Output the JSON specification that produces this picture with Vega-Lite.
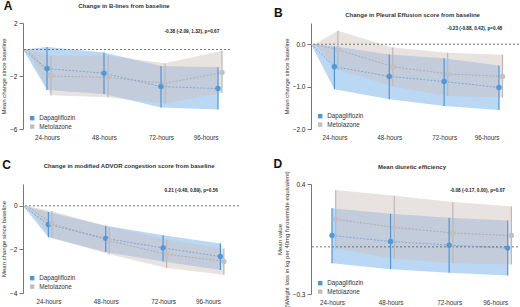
{
  "$schema": "https://vega.github.io/schema/vega-lite/v6.json",
  "padding": 0,
  "background": "white",
  "bounds": "flush",
  "columns": 2,
  "spacing": {"row": 55, "column": 72},
  "resolve": {"scale": {"x": "independent", "y": "independent", "color": "independent"}, "legend": {"color": "independent"}, "axis": {"x": "independent", "y": "independent"}},
  "datasets": {
    "A": [
      {"group": "Dapagliflozin", "hour": 0, "mean": 0, "lo": 0, "hi": 0},
      {"group": "Dapagliflozin", "hour": 24, "mean": -1.44, "lo": -3.06, "hi": 0.18},
      {"group": "Dapagliflozin", "hour": 48, "mean": -1.79, "lo": -3.36, "hi": -0.23},
      {"group": "Dapagliflozin", "hour": 72, "mean": -2.8, "lo": -4.37, "hi": -1.24},
      {"group": "Dapagliflozin", "hour": 96, "mean": -2.95, "lo": -4.52, "hi": -1.34},
      {"group": "Metolazone", "hour": 0, "mean": 0, "lo": 0, "hi": 0},
      {"group": "Metolazone", "hour": 24, "mean": -2.0, "lo": -3.46, "hi": -0.48},
      {"group": "Metolazone", "hour": 48, "mean": -2.1, "lo": -3.6, "hi": -0.48},
      {"group": "Metolazone", "hour": 72, "mean": -2.55, "lo": -4.07, "hi": -1.04},
      {"group": "Metolazone", "hour": 96, "mean": -1.74, "lo": -3.26, "hi": -0.1}
    ],
    "B": [
      {"group": "Dapagliflozin", "hour": 0, "mean": 0, "lo": 0, "hi": 0},
      {"group": "Dapagliflozin", "hour": 24, "mean": -0.53, "lo": -1.06, "hi": -0.05},
      {"group": "Dapagliflozin", "hour": 48, "mean": -0.76, "lo": -1.3, "hi": -0.24},
      {"group": "Dapagliflozin", "hour": 72, "mean": -0.88, "lo": -1.46, "hi": -0.33},
      {"group": "Dapagliflozin", "hour": 96, "mean": -1.02, "lo": -1.55, "hi": -0.5},
      {"group": "Metolazone", "hour": 0, "mean": 0, "lo": 0, "hi": 0},
      {"group": "Metolazone", "hour": 24, "mean": -0.13, "lo": -0.6, "hi": 0.32},
      {"group": "Metolazone", "hour": 48, "mean": -0.53, "lo": -0.99, "hi": -0.08},
      {"group": "Metolazone", "hour": 72, "mean": -0.7, "lo": -1.22, "hi": -0.2},
      {"group": "Metolazone", "hour": 96, "mean": -0.76, "lo": -1.26, "hi": -0.25}
    ],
    "C": [
      {"group": "Dapagliflozin", "hour": 0, "mean": 0, "lo": 0, "hi": 0},
      {"group": "Dapagliflozin", "hour": 24, "mean": -0.86, "lo": -1.44, "hi": -0.28},
      {"group": "Dapagliflozin", "hour": 48, "mean": -1.5, "lo": -2.12, "hi": -0.92},
      {"group": "Dapagliflozin", "hour": 72, "mean": -1.93, "lo": -2.55, "hi": -1.35},
      {"group": "Dapagliflozin", "hour": 96, "mean": -2.33, "lo": -2.94, "hi": -1.73},
      {"group": "Metolazone", "hour": 0, "mean": 0, "lo": 0, "hi": 0},
      {"group": "Metolazone", "hour": 24, "mean": -0.81, "lo": -1.47, "hi": -0.25},
      {"group": "Metolazone", "hour": 48, "mean": -1.61, "lo": -2.22, "hi": -0.97},
      {"group": "Metolazone", "hour": 72, "mean": -2.22, "lo": -2.85, "hi": -1.55},
      {"group": "Metolazone", "hour": 96, "mean": -2.55, "lo": -3.16, "hi": -1.96}
    ],
    "D": [
      {"group": "Dapagliflozin", "hour": 24, "mean": 0.072, "lo": -0.105, "hi": 0.246},
      {"group": "Dapagliflozin", "hour": 48, "mean": 0.034, "lo": -0.142, "hi": 0.21},
      {"group": "Dapagliflozin", "hour": 72, "mean": 0.011, "lo": -0.165, "hi": 0.185},
      {"group": "Dapagliflozin", "hour": 96, "mean": -0.008, "lo": -0.182, "hi": 0.168},
      {"group": "Metolazone", "hour": 24, "mean": 0.175, "lo": -0.012, "hi": 0.362},
      {"group": "Metolazone", "hour": 48, "mean": 0.124, "lo": -0.075, "hi": 0.326},
      {"group": "Metolazone", "hour": 72, "mean": 0.088, "lo": -0.105, "hi": 0.285},
      {"group": "Metolazone", "hour": 96, "mean": 0.072, "lo": -0.113, "hi": 0.257}
    ]
  },
  "concat": [
    {
      "width": 207, "height": 106,
      "layer": [
        {"data": {"name": "A"}, "transform": [{"filter": "datum.group === 'Dapagliflozin'"}],
         "mark": {"type": "area", "color": "#5aa3e4", "opacity": 0.42},
         "encoding": {
           "x": {"field": "hour", "type": "quantitative", "title": null, "scale": {"domain": [0, 24, 96], "range": [0, 24, 195], "nice": false, "zero": false}, "axis": {"values": [24, 48, 72, 96], "labelExpr": "datum.value + '-hours'"}},
           "y": {"field": "lo", "type": "quantitative", "title": "Mean change since baseline", "scale": {"domain": [-6, 2], "nice": false, "zero": false}, "axis": {"values": [2, 0, -2, -4, -6], "labelOverlap": false}},
           "y2": {"field": "hi"}}},
        {"data": {"name": "A"}, "transform": [{"filter": "datum.group === 'Metolazone'"}],
         "mark": {"type": "area", "color": "#cdbfbc", "opacity": 0.45, "xOffset": 4},
         "encoding": {"x": {"field": "hour", "type": "quantitative", "title": null}, "y": {"field": "lo", "type": "quantitative", "title": "Mean change since baseline"}, "y2": {"field": "hi"}}},
        {"data": {"values": [{}]}, "mark": {"type": "rule", "color": "#555555", "strokeDash": [2, 2], "strokeWidth": 0.8}, "encoding": {"y": {"datum": 0, "type": "quantitative"}}},
        {"data": {"name": "A"}, "transform": [{"filter": "datum.group === 'Dapagliflozin'"}],
         "mark": {"type": "line", "color": "#6f9fd0", "strokeDash": [2, 1.5], "strokeWidth": 0.8},
         "encoding": {"x": {"field": "hour", "type": "quantitative", "title": null}, "y": {"field": "mean", "type": "quantitative", "title": "Mean change since baseline"}}},
        {"data": {"name": "A"}, "transform": [{"filter": "datum.group === 'Metolazone'"}],
         "mark": {"type": "line", "color": "#aaa4a4", "strokeDash": [2, 1.5], "strokeWidth": 0.8, "xOffset": 4},
         "encoding": {"x": {"field": "hour", "type": "quantitative", "title": null}, "y": {"field": "mean", "type": "quantitative", "title": "Mean change since baseline"}}},
        {"data": {"name": "A"}, "transform": [{"filter": "datum.group === 'Dapagliflozin' && datum.hour > 0"}],
         "mark": {"type": "rule", "color": "#4e97d8", "strokeWidth": 1.2},
         "encoding": {"x": {"field": "hour", "type": "quantitative", "title": null}, "y": {"field": "lo", "type": "quantitative", "title": "Mean change since baseline"}, "y2": {"field": "hi"}}},
        {"data": {"name": "A"}, "transform": [{"filter": "datum.group === 'Metolazone' && datum.hour > 0"}],
         "mark": {"type": "rule", "color": "#bdb8b8", "strokeWidth": 1.2, "xOffset": 4},
         "encoding": {"x": {"field": "hour", "type": "quantitative", "title": null}, "y": {"field": "lo", "type": "quantitative", "title": "Mean change since baseline"}, "y2": {"field": "hi"}}},
        {"data": {"name": "A"}, "transform": [{"filter": "datum.group === 'Dapagliflozin' && datum.hour > 0"}],
         "mark": {"type": "point", "filled": true, "size": 30, "opacity": 0.95},
         "encoding": {"x": {"field": "hour", "type": "quantitative", "title": null}, "y": {"field": "mean", "type": "quantitative", "title": "Mean change since baseline"},
           "color": {"field": "group", "type": "nominal", "scale": {"domain": ["Dapagliflozin", "Metolazone"], "range": ["#4e97d8", "#c4bfbf"]}, "legend": {"legendX": 6, "legendY": 92}}}},
        {"data": {"name": "A"}, "transform": [{"filter": "datum.group === 'Metolazone' && datum.hour > 0"}],
         "mark": {"type": "point", "filled": true, "size": 30, "opacity": 0.95, "xOffset": 4},
         "encoding": {"x": {"field": "hour", "type": "quantitative", "title": null}, "y": {"field": "mean", "type": "quantitative", "title": "Mean change since baseline"},
           "color": {"field": "group", "type": "nominal", "legend": {"legendX": 6, "legendY": 92}}}},
        {"data": {"values": [{"note": "-0.38 (-2.09, 1.32), p=0.67"}]}, "mark": {"type": "text", "fontSize": 4.7, "fontWeight": "bold", "color": "#222222"},
         "encoding": {"x": {"datum": 85, "type": "quantitative"}, "y": {"datum": 1.35, "type": "quantitative"}, "text": {"field": "note"}}},
        {"data": {"values": [{"title": "Change in B-lines from baseline"}]}, "mark": {"type": "text", "fontSize": 6, "fontWeight": "bold", "color": "#333333"},
         "encoding": {"x": {"datum": 56.4, "type": "quantitative"}, "y": {"datum": 3.28, "type": "quantitative"}, "text": {"field": "title"}}},
        {"data": {"values": [{"letter": "A"}]}, "mark": {"type": "text", "fontSize": 12, "fontWeight": "bold", "color": "#111111"},
         "encoding": {"x": {"datum": -15, "type": "quantitative"}, "y": {"datum": 3.28, "type": "quantitative"}, "text": {"field": "letter"}}}
      ]
    },
    {
      "width": 208, "height": 106,
      "layer": [
        {"data": {"name": "B"}, "transform": [{"filter": "datum.group === 'Dapagliflozin'"}],
         "mark": {"type": "area", "color": "#5aa3e4", "opacity": 0.42},
         "encoding": {
           "x": {"field": "hour", "type": "quantitative", "title": null, "scale": {"domain": [0, 24, 96], "range": [0, 23.4, 188], "nice": false, "zero": false}, "axis": {"values": [24, 48, 72, 96], "labelExpr": "datum.value + '-hours'"}},
           "y": {"field": "lo", "type": "quantitative", "title": "Mean change since baseline", "scale": {"domain": [-2, 0.5], "nice": false, "zero": false}, "axis": {"values": [0.5, 0, -0.5, -1, -1.5, -2], "format": ".1f", "labelOverlap": false}},
           "y2": {"field": "hi"}}},
        {"data": {"name": "B"}, "transform": [{"filter": "datum.group === 'Metolazone'"}],
         "mark": {"type": "area", "color": "#cdbfbc", "opacity": 0.45, "xOffset": 3.5},
         "encoding": {"x": {"field": "hour", "type": "quantitative", "title": null}, "y": {"field": "lo", "type": "quantitative", "title": "Mean change since baseline"}, "y2": {"field": "hi"}}},
        {"data": {"values": [{}]}, "mark": {"type": "rule", "color": "#555555", "strokeDash": [2, 2], "strokeWidth": 0.8}, "encoding": {"y": {"datum": 0, "type": "quantitative"}}},
        {"data": {"name": "B"}, "transform": [{"filter": "datum.group === 'Dapagliflozin'"}],
         "mark": {"type": "line", "color": "#6f9fd0", "strokeDash": [2, 1.5], "strokeWidth": 0.8},
         "encoding": {"x": {"field": "hour", "type": "quantitative", "title": null}, "y": {"field": "mean", "type": "quantitative", "title": "Mean change since baseline"}}},
        {"data": {"name": "B"}, "transform": [{"filter": "datum.group === 'Metolazone'"}],
         "mark": {"type": "line", "color": "#aaa4a4", "strokeDash": [2, 1.5], "strokeWidth": 0.8, "xOffset": 3.5},
         "encoding": {"x": {"field": "hour", "type": "quantitative", "title": null}, "y": {"field": "mean", "type": "quantitative", "title": "Mean change since baseline"}}},
        {"data": {"name": "B"}, "transform": [{"filter": "datum.group === 'Dapagliflozin' && datum.hour > 0"}],
         "mark": {"type": "rule", "color": "#4e97d8", "strokeWidth": 1.2},
         "encoding": {"x": {"field": "hour", "type": "quantitative", "title": null}, "y": {"field": "lo", "type": "quantitative", "title": "Mean change since baseline"}, "y2": {"field": "hi"}}},
        {"data": {"name": "B"}, "transform": [{"filter": "datum.group === 'Metolazone' && datum.hour > 0"}],
         "mark": {"type": "rule", "color": "#bdb8b8", "strokeWidth": 1.2, "xOffset": 3.5},
         "encoding": {"x": {"field": "hour", "type": "quantitative", "title": null}, "y": {"field": "lo", "type": "quantitative", "title": "Mean change since baseline"}, "y2": {"field": "hi"}}},
        {"data": {"name": "B"}, "transform": [{"filter": "datum.group === 'Dapagliflozin' && datum.hour > 0"}],
         "mark": {"type": "point", "filled": true, "size": 30, "opacity": 0.95},
         "encoding": {"x": {"field": "hour", "type": "quantitative", "title": null}, "y": {"field": "mean", "type": "quantitative", "title": "Mean change since baseline"},
           "color": {"field": "group", "type": "nominal", "scale": {"domain": ["Dapagliflozin", "Metolazone"], "range": ["#4e97d8", "#c4bfbf"]}, "legend": {"legendX": 6, "legendY": 90}}}},
        {"data": {"name": "B"}, "transform": [{"filter": "datum.group === 'Metolazone' && datum.hour > 0"}],
         "mark": {"type": "point", "filled": true, "size": 30, "opacity": 0.95, "xOffset": 3.5},
         "encoding": {"x": {"field": "hour", "type": "quantitative", "title": null}, "y": {"field": "mean", "type": "quantitative", "title": "Mean change since baseline"},
           "color": {"field": "group", "type": "nominal", "legend": {"legendX": 6, "legendY": 90}}}},
        {"data": {"values": [{"note": "-0.23 (-0.88, 0.42), p=0.48"}]}, "mark": {"type": "text", "fontSize": 4.7, "fontWeight": "bold", "color": "#222222"},
         "encoding": {"x": {"datum": 85.4, "type": "quantitative"}, "y": {"datum": 0.36, "type": "quantitative"}, "text": {"field": "note"}}},
        {"data": {"values": [{"title": "Change in Pleural Effusion score from baseline"}]}, "mark": {"type": "text", "fontSize": 6, "fontWeight": "bold", "color": "#333333"},
         "encoding": {"x": {"datum": 58.2, "type": "quantitative"}, "y": {"datum": 0.69, "type": "quantitative"}, "text": {"field": "title"}}},
        {"data": {"values": [{"letter": "B"}]}, "mark": {"type": "text", "fontSize": 12, "fontWeight": "bold", "color": "#111111"},
         "encoding": {"x": {"datum": -33.4, "type": "quantitative"}, "y": {"datum": 0.73, "type": "quantitative"}, "text": {"field": "letter"}}}
      ]
    },
    {
      "width": 216, "height": 109,
      "layer": [
        {"data": {"name": "C"}, "transform": [{"filter": "datum.group === 'Dapagliflozin'"}],
         "mark": {"type": "area", "color": "#5aa3e4", "opacity": 0.42},
         "encoding": {
           "x": {"field": "hour", "type": "quantitative", "title": null, "scale": {"domain": [0, 24, 96], "range": [0, 25.4, 197.4], "nice": false, "zero": false}, "axis": {"values": [24, 48, 72, 96], "labelExpr": "datum.value + '-hours'"}},
           "y": {"field": "lo", "type": "quantitative", "title": "Mean change since baseline", "scale": {"domain": [-4, 1], "nice": false, "zero": false}, "axis": {"values": [1, 0, -1, -2, -3, -4], "labelOverlap": false}},
           "y2": {"field": "hi"}}},
        {"data": {"name": "C"}, "transform": [{"filter": "datum.group === 'Metolazone'"}],
         "mark": {"type": "area", "color": "#cdbfbc", "opacity": 0.45, "xOffset": 3.5},
         "encoding": {"x": {"field": "hour", "type": "quantitative", "title": null}, "y": {"field": "lo", "type": "quantitative", "title": "Mean change since baseline"}, "y2": {"field": "hi"}}},
        {"data": {"values": [{}]}, "mark": {"type": "rule", "color": "#555555", "strokeDash": [2, 2], "strokeWidth": 0.8}, "encoding": {"y": {"datum": 0, "type": "quantitative"}}},
        {"data": {"name": "C"}, "transform": [{"filter": "datum.group === 'Dapagliflozin'"}],
         "mark": {"type": "line", "color": "#6f9fd0", "strokeDash": [2, 1.5], "strokeWidth": 0.8},
         "encoding": {"x": {"field": "hour", "type": "quantitative", "title": null}, "y": {"field": "mean", "type": "quantitative", "title": "Mean change since baseline"}}},
        {"data": {"name": "C"}, "transform": [{"filter": "datum.group === 'Metolazone'"}],
         "mark": {"type": "line", "color": "#aaa4a4", "strokeDash": [2, 1.5], "strokeWidth": 0.8, "xOffset": 3.5},
         "encoding": {"x": {"field": "hour", "type": "quantitative", "title": null}, "y": {"field": "mean", "type": "quantitative", "title": "Mean change since baseline"}}},
        {"data": {"name": "C"}, "transform": [{"filter": "datum.group === 'Dapagliflozin' && datum.hour > 0"}],
         "mark": {"type": "rule", "color": "#4e97d8", "strokeWidth": 1.2},
         "encoding": {"x": {"field": "hour", "type": "quantitative", "title": null}, "y": {"field": "lo", "type": "quantitative", "title": "Mean change since baseline"}, "y2": {"field": "hi"}}},
        {"data": {"name": "C"}, "transform": [{"filter": "datum.group === 'Metolazone' && datum.hour > 0"}],
         "mark": {"type": "rule", "color": "#bdb8b8", "strokeWidth": 1.2, "xOffset": 3.5},
         "encoding": {"x": {"field": "hour", "type": "quantitative", "title": null}, "y": {"field": "lo", "type": "quantitative", "title": "Mean change since baseline"}, "y2": {"field": "hi"}}},
        {"data": {"name": "C"}, "transform": [{"filter": "datum.group === 'Dapagliflozin' && datum.hour > 0"}],
         "mark": {"type": "point", "filled": true, "size": 30, "opacity": 0.95},
         "encoding": {"x": {"field": "hour", "type": "quantitative", "title": null}, "y": {"field": "mean", "type": "quantitative", "title": "Mean change since baseline"},
           "color": {"field": "group", "type": "nominal", "scale": {"domain": ["Dapagliflozin", "Metolazone"], "range": ["#4e97d8", "#c4bfbf"]}, "legend": {"legendX": 6, "legendY": 91}}}},
        {"data": {"name": "C"}, "transform": [{"filter": "datum.group === 'Metolazone' && datum.hour > 0"}],
         "mark": {"type": "point", "filled": true, "size": 30, "opacity": 0.95, "xOffset": 3.5},
         "encoding": {"x": {"field": "hour", "type": "quantitative", "title": null}, "y": {"field": "mean", "type": "quantitative", "title": "Mean change since baseline"},
           "color": {"field": "group", "type": "nominal", "legend": {"legendX": 6, "legendY": 91}}}},
        {"data": {"values": [{"note": "0.21 (-0.48, 0.89), p=0.56"}]}, "mark": {"type": "text", "fontSize": 4.7, "fontWeight": "bold", "color": "#222222"},
         "encoding": {"x": {"datum": 83.8, "type": "quantitative"}, "y": {"datum": 0.66, "type": "quantitative"}, "text": {"field": "note"}}},
        {"data": {"values": [{"title": "Change in modified ADVOR congestion score from baseline"}]}, "mark": {"type": "text", "fontSize": 6, "fontWeight": "bold", "color": "#333333"},
         "encoding": {"x": {"datum": 57.8, "type": "quantitative"}, "y": {"datum": 1.81, "type": "quantitative"}, "text": {"field": "title"}}},
        {"data": {"values": [{"letter": "C"}]}, "mark": {"type": "text", "fontSize": 12, "fontWeight": "bold", "color": "#111111"},
         "encoding": {"x": {"datum": -15.4, "type": "quantitative"}, "y": {"datum": 1.86, "type": "quantitative"}, "text": {"field": "letter"}}}
      ]
    },
    {
      "width": 211, "height": 110,
      "layer": [
        {"data": {"name": "D"}, "transform": [{"filter": "datum.group === 'Dapagliflozin'"}],
         "mark": {"type": "area", "color": "#5aa3e4", "opacity": 0.42},
         "encoding": {
           "x": {"field": "hour", "type": "quantitative", "title": null, "scale": {"domain": [0, 24, 96], "range": [0, 21, 196.7], "nice": false, "zero": false}, "axis": {"values": [24, 48, 72, 96], "labelExpr": "datum.value + '-hours'"}},
           "y": {"field": "lo", "type": "quantitative", "title": ["Mean value", "(Weight loss in kg per 40mg furosemide equivalent)"], "scale": {"domain": [-0.3, 0.4], "nice": false, "zero": false}, "axis": {"values": [0.4, 0.3, 0.2, 0.1, 0, -0.1, -0.2, -0.3], "format": ".1f", "titleLineHeight": 6.5, "labelOverlap": false}},
           "y2": {"field": "hi"}}},
        {"data": {"name": "D"}, "transform": [{"filter": "datum.group === 'Metolazone'"}],
         "mark": {"type": "area", "color": "#cdbfbc", "opacity": 0.45, "xOffset": 3.7},
         "encoding": {"x": {"field": "hour", "type": "quantitative", "title": null}, "y": {"field": "lo", "type": "quantitative", "title": ["Mean value", "(Weight loss in kg per 40mg furosemide equivalent)"]}, "y2": {"field": "hi"}}},
        {"data": {"values": [{}]}, "mark": {"type": "rule", "color": "#555555", "strokeDash": [2, 2], "strokeWidth": 0.8}, "encoding": {"y": {"datum": 0, "type": "quantitative"}}},
        {"data": {"name": "D"}, "transform": [{"filter": "datum.group === 'Dapagliflozin'"}],
         "mark": {"type": "line", "color": "#6f9fd0", "strokeDash": [2, 1.5], "strokeWidth": 0.8},
         "encoding": {"x": {"field": "hour", "type": "quantitative", "title": null}, "y": {"field": "mean", "type": "quantitative", "title": ["Mean value", "(Weight loss in kg per 40mg furosemide equivalent)"]}}},
        {"data": {"name": "D"}, "transform": [{"filter": "datum.group === 'Metolazone'"}],
         "mark": {"type": "line", "color": "#aaa4a4", "strokeDash": [2, 1.5], "strokeWidth": 0.8, "xOffset": 3.7},
         "encoding": {"x": {"field": "hour", "type": "quantitative", "title": null}, "y": {"field": "mean", "type": "quantitative", "title": ["Mean value", "(Weight loss in kg per 40mg furosemide equivalent)"]}}},
        {"data": {"name": "D"}, "transform": [{"filter": "datum.group === 'Dapagliflozin'"}],
         "mark": {"type": "rule", "color": "#4e97d8", "strokeWidth": 1.2},
         "encoding": {"x": {"field": "hour", "type": "quantitative", "title": null}, "y": {"field": "lo", "type": "quantitative", "title": ["Mean value", "(Weight loss in kg per 40mg furosemide equivalent)"]}, "y2": {"field": "hi"}}},
        {"data": {"name": "D"}, "transform": [{"filter": "datum.group === 'Metolazone'"}],
         "mark": {"type": "rule", "color": "#bdb8b8", "strokeWidth": 1.2, "xOffset": 3.7},
         "encoding": {"x": {"field": "hour", "type": "quantitative", "title": null}, "y": {"field": "lo", "type": "quantitative", "title": ["Mean value", "(Weight loss in kg per 40mg furosemide equivalent)"]}, "y2": {"field": "hi"}}},
        {"data": {"name": "D"}, "transform": [{"filter": "datum.group === 'Dapagliflozin'"}],
         "mark": {"type": "point", "filled": true, "size": 30, "opacity": 0.95},
         "encoding": {"x": {"field": "hour", "type": "quantitative", "title": null}, "y": {"field": "mean", "type": "quantitative", "title": ["Mean value", "(Weight loss in kg per 40mg furosemide equivalent)"]},
           "color": {"field": "group", "type": "nominal", "scale": {"domain": ["Dapagliflozin", "Metolazone"], "range": ["#4e97d8", "#c4bfbf"]}, "legend": {"legendX": 6, "legendY": 96}}}},
        {"data": {"name": "D"}, "transform": [{"filter": "datum.group === 'Metolazone'"}],
         "mark": {"type": "point", "filled": true, "size": 30, "opacity": 0.95, "xOffset": 3.7},
         "encoding": {"x": {"field": "hour", "type": "quantitative", "title": null}, "y": {"field": "mean", "type": "quantitative", "title": ["Mean value", "(Weight loss in kg per 40mg furosemide equivalent)"]},
           "color": {"field": "group", "type": "nominal", "legend": {"legendX": 6, "legendY": 96}}}},
        {"data": {"values": [{"note": "-0.08 (-0.17, 0.00), p=0.07"}]}, "mark": {"type": "text", "fontSize": 4.7, "fontWeight": "bold", "color": "#222222"},
         "encoding": {"x": {"datum": 83.6, "type": "quantitative"}, "y": {"datum": 0.357, "type": "quantitative"}, "text": {"field": "note"}}},
        {"data": {"values": [{"title": "Mean diuretic efficiency"}]}, "mark": {"type": "text", "fontSize": 6, "fontWeight": "bold", "color": "#333333"},
         "encoding": {"x": {"datum": 56.8, "type": "quantitative"}, "y": {"datum": 0.508, "type": "quantitative"}, "text": {"field": "title"}}},
        {"data": {"values": [{"letter": "D"}]}, "mark": {"type": "text", "fontSize": 12, "fontWeight": "bold", "color": "#111111"},
         "encoding": {"x": {"datum": -37.9, "type": "quantitative"}, "y": {"datum": 0.525, "type": "quantitative"}, "text": {"field": "letter"}}}
      ]
    }
  ],
  "config": {
    "font": "Liberation Sans",
    "view": {"stroke": null},
    "text": {"font": "Liberation Sans"},
    "axis": {"labelFont": "Liberation Sans", "labelFontSize": 6.5, "labelColor": "#222222", "labelOverlap": false, "titleFont": "Liberation Sans", "titleFontSize": 6, "titleFontWeight": "normal", "titleColor": "#333333", "domainColor": "#777777", "tickColor": "#777777", "tickSize": 4, "grid": false, "labelPadding": 2, "titlePadding": 3},
    "axisX": {"domain": false, "ticks": false, "labelPadding": 5, "labelColor": "#333333", "labelFontSize": 6.3},
    "legend": {"orient": "none", "title": null, "symbolType": "square", "symbolSize": 20, "symbolStrokeWidth": 0, "symbolOpacity": 1, "labelFont": "Liberation Sans", "labelFontSize": 6.3, "labelColor": "#333333", "rowPadding": 1.5, "labelOffset": 4, "padding": 0}
  }
}
